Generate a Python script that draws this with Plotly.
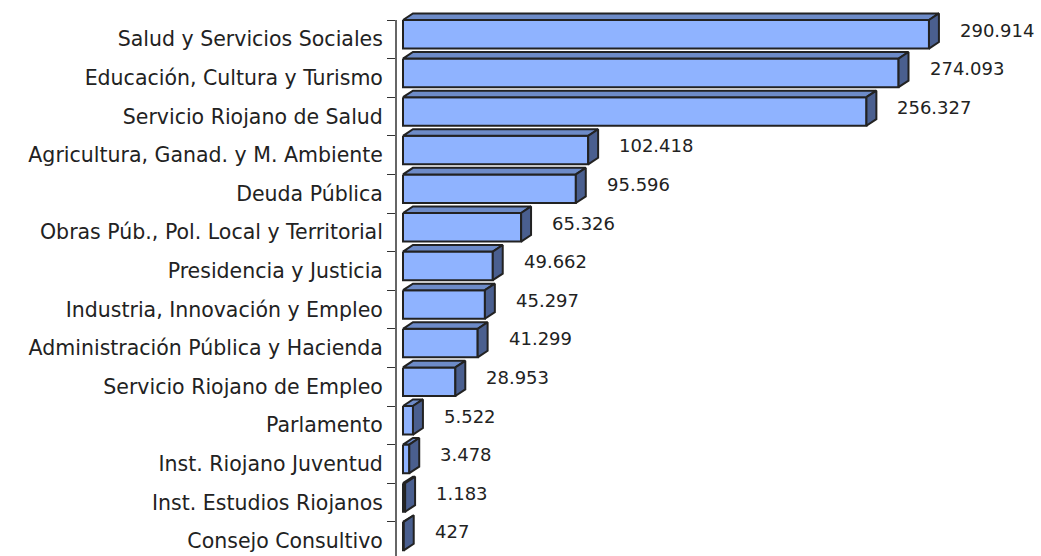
import plotly.graph_objects as go

categories = [
    "Salud y Servicios Sociales",
    "Educación, Cultura y Turismo",
    "Servicio Riojano de Salud",
    "Agricultura, Ganad. y M. Ambiente",
    "Deuda Pública",
    "Obras Púb., Pol. Local y Territorial",
    "Presidencia y Justicia",
    "Industria, Innovación y Empleo",
    "Administración Pública y Hacienda",
    "Servicio Riojano de Empleo",
    "Parlamento",
    "Inst. Riojano Juventud",
    "Inst. Estudios Riojanos",
    "Consejo Consultivo",
]
values = [290.914, 274.093, 256.327, 102.418, 95.596, 65.326, 49.662,
          45.297, 41.299, 28.953, 5.522, 3.478, 1.183, 0.427]
value_labels = ["290.914", "274.093", "256.327", "102.418", "95.596", "65.326",
                "49.662", "45.297", "41.299", "28.953", "5.522", "3.478",
                "1.183", "427"]

# 3D look: depth offset (x in value units, y in category units) and face height
DX = 5.5
DY = 0.17
H = 0.74

FRONT = "#8fb3ff"
TOP = "#6d8bc8"
SIDE = "#4a5f8f"
EDGE = "#222222"


def faces(i, v):
    y0 = i - 0.5
    y1 = y0 + H
    front = [(0, y0), (v, y0), (v, y1), (0, y1), (0, y0)]
    top = [(0, y0), (DX, y0 - DY), (v + DX, y0 - DY), (v, y0), (0, y0)]
    side = [(v, y0), (v + DX, y0 - DY), (v + DX, y1 - DY), (v, y1), (v, y0)]
    return front, top, side


def polys_to_xy(polys):
    xs, ys = [], []
    for p in polys:
        xs += [pt[0] for pt in p] + [None]
        ys += [pt[1] for pt in p] + [None]
    return xs, ys


fronts, tops, sides = [], [], []
for i, v in enumerate(values):
    f, t, s = faces(i, v)
    fronts.append(f)
    tops.append(t)
    sides.append(s)

fig = go.Figure()
for polys, col in [(fronts, FRONT), (tops, TOP), (sides, SIDE)]:
    xs, ys = polys_to_xy(polys)
    fig.add_trace(go.Scatter(
        x=xs, y=ys, mode="lines", fill="toself", fillcolor=col,
        line=dict(color=EDGE, width=2), hoverinfo="skip", showlegend=False
    ))

for i, (v, lab) in enumerate(zip(values, value_labels)):
    fig.add_annotation(
        x=v + DX, y=i - 0.24, text=lab, showarrow=False,
        xanchor="left", yanchor="middle", xshift=19,
        font=dict(family="DejaVu Sans", size=18, color="#222222")
    )

# axis line along the category axis
fig.add_shape(type="line", xref="paper", x0=0, x1=0, yref="y",
              y0=-0.5, y1=13.6, line=dict(color="#333333", width=1.5))

px_per_row = 38.6
y_top = -0.5 - 20 / px_per_row
y_bot = y_top + 556 / px_per_row

px_per_unit = 1.808
x_lo = -7 / px_per_unit
x_hi = x_lo + 645 / px_per_unit

fig.update_layout(
    width=1041, height=556,
    margin=dict(l=396, r=0, t=0, b=0),
    paper_bgcolor="white", plot_bgcolor="white",
    showlegend=False,
    xaxis=dict(range=[x_lo, x_hi], visible=False, automargin=False),
    yaxis=dict(
        range=[y_bot, y_top], automargin=False,
        tickmode="array", tickvals=list(range(len(categories))),
        ticktext=categories,
        ticks="outside", ticklen=8, tickcolor="rgba(0,0,0,0)",
        showgrid=False, zeroline=False, showline=False,
        tickfont=dict(family="DejaVu Sans", size=20.5, color="#222222"),
        minor=dict(tickmode="array",
                   tickvals=[k - 0.5 for k in range(len(categories) + 1)],
                   ticks="outside", ticklen=8, tickcolor="#333333",
                   tickwidth=1, showgrid=False),
    ),
)

# page body has a default 8px margin; remove it so the figure fills the window
fig.write_html("out.html", config={"displayModeBar": False},
               post_script="document.body.style.margin='0';")
